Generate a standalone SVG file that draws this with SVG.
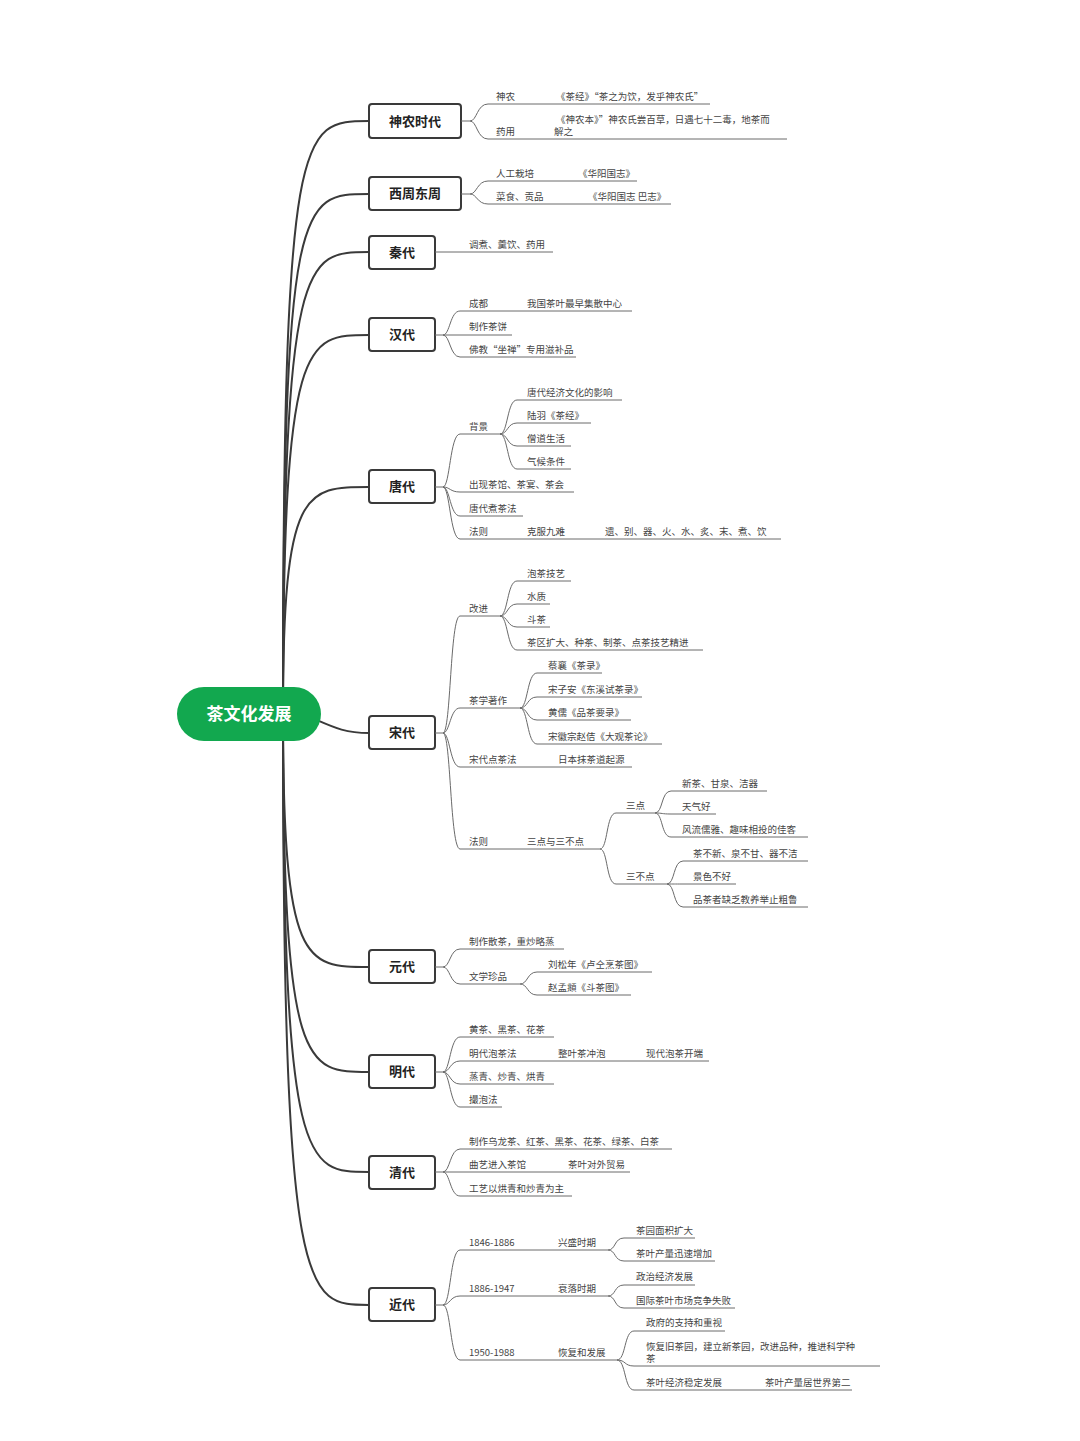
<svg xmlns="http://www.w3.org/2000/svg" width="1080" height="1441" viewBox="0 0 1080 1441">
<style>
.m{fill:none;stroke:#3a3a3a;stroke-width:2}
.l{fill:none;stroke:#6a6a6a;stroke-width:1}
.b{fill:#fff;stroke:#3a3a3a;stroke-width:2}
.n{font-family:"Noto Sans CJK SC","Noto Sans",sans-serif;font-size:13px;font-weight:bold;fill:#222;text-anchor:middle}
.t{font-family:"Noto Sans CJK SC","Noto Sans",sans-serif;font-size:9.5px;fill:#444}
</style>
<rect width="1080" height="1441" fill="#fff"/>
<g id="connectors">
<path class="m" d="M283 713 C283 121,300 121,369 121"/>
<path class="m" d="M283 713 C283 194,300 194,369 194"/>
<path class="m" d="M283 713 C283 252,305 252,369 252"/>
<path class="m" d="M283 713 C283 335,305 335,369 335"/>
<path class="m" d="M283 713 C283 487,305 487,369 487"/>
<path class="m" d="M300 713 C330 725,340 733,369 733"/>
<path class="m" d="M283 713 C283 967,305 967,369 967"/>
<path class="m" d="M283 713 C283 1072,305 1072,369 1072"/>
<path class="m" d="M283 713 C283 1172,305 1172,369 1172"/>
<path class="m" d="M283 713 C283 1305,305 1305,369 1305"/>
</g>
<g id="root">
<rect x="177" y="687" width="144" height="54" rx="27" fill="#12a84f"/>
<text x="249" y="720" font-family="Noto Sans CJK SC,sans-serif" font-size="17" font-weight="bold" fill="#fff" text-anchor="middle">茶文化发展</text>
</g>
<g id="shennong">
<rect class="b" x="369" y="104" width="92" height="34" rx="3"/><text class="n" x="415" y="126">神农时代</text>
<path class="l" d="M461 121 H470 C477 121,477 104,488 104 H710"/><text class="t" x="496" y="100">神农</text><text class="t" x="556" y="100">《茶经》“茶之为饮，发乎神农氏”</text>
<path class="l" d="M470 121 C477 121,477 139,488 139 H787"/><text class="t" x="496" y="135">药用</text><text class="t" x="556" y="123">《神农本》”神农氏尝百草，日遇七十二毒，地茶而</text><text class="t" x="554" y="135">解之</text>
</g>
<g id="xizhou">
<rect class="b" x="369" y="177" width="92" height="33" rx="3"/><text class="n" x="415" y="198">西周东周</text>
<path class="l" d="M461 194 H470 C477 194,477 181,488 181 H637"/><text class="t" x="496" y="177">人工栽培</text><text class="t" x="578" y="177">《华阳国志》</text>
<path class="l" d="M470 194 C477 194,477 204,488 204 H671"/><text class="t" x="496" y="200">菜食、贡品</text><text class="t" x="588" y="200">《华阳国志 巴志》</text>
</g>
<g id="qin">
<rect class="b" x="369" y="236" width="66" height="33" rx="3"/><text class="n" x="402" y="257">秦代</text>
<path class="l" d="M435 252 H553"/><text class="t" x="469" y="248">调煮、羹饮、药用</text>
</g>
<g id="han">
<rect class="b" x="369" y="318" width="66" height="33" rx="3"/><text class="n" x="402" y="339">汉代</text>
<path class="l" d="M435 335 H443 C450 335,450 311,460 311 H632"/><text class="t" x="469" y="307">成都</text><text class="t" x="527" y="307">我国茶叶最早集散中心</text>
<path class="l" d="M443 335 H512"/><text class="t" x="469" y="330">制作茶饼</text>
<path class="l" d="M443 335 C450 335,450 357,460 357 H576"/><text class="t" x="469" y="353">佛教“坐禅”专用滋补品</text>
</g>
<g id="tang">
<rect class="b" x="369" y="470" width="66" height="33" rx="3"/><text class="n" x="402" y="491">唐代</text>
<path class="l" d="M435 487 H443 C450 487,450 434,460 434 H500"/><text class="t" x="469" y="430">背景</text>
<path class="l" d="M500 434 C508 434,507 400,517 400 H622"/><text class="t" x="527" y="396">唐代经济文化的影响</text>
<path class="l" d="M500 434 C508 434,507 423,517 423 H591"/><text class="t" x="527" y="419">陆羽《茶经》</text>
<path class="l" d="M500 434 C508 434,507 446,517 446 H571"/><text class="t" x="527" y="442">僧道生活</text>
<path class="l" d="M500 434 C508 434,507 469,517 469 H571"/><text class="t" x="527" y="465">气候条件</text>
<path class="l" d="M443 487 C450 487,450 492,460 492 H574"/><text class="t" x="469" y="488">出现茶馆、茶宴、茶会</text>
<path class="l" d="M443 487 C450 487,450 516,460 516 H523"/><text class="t" x="469" y="512">唐代煮茶法</text>
<path class="l" d="M443 487 C450 487,450 539,460 539 H781"/><text class="t" x="469" y="535">法则</text><text class="t" x="527" y="535">克服九难</text><text class="t" x="605" y="535">遗、别、器、火、水、炙、末、煮、饮</text>
</g>
<g id="song">
<rect class="b" x="369" y="716" width="66" height="33" rx="3"/><text class="n" x="402" y="737">宋代</text>
<path class="l" d="M435 733 H443 C451 733,450 616,460 616 H500"/><text class="t" x="469" y="612">改进</text>
<path class="l" d="M500 616 C508 616,507 581,517 581 H571"/><text class="t" x="527" y="577">泡茶技艺</text>
<path class="l" d="M500 616 C508 616,507 604,517 604 H550"/><text class="t" x="527" y="600">水质</text>
<path class="l" d="M500 616 C508 616,507 627,517 627 H550"/><text class="t" x="527" y="623">斗茶</text>
<path class="l" d="M500 616 C508 616,507 650,517 650 H703"/><text class="t" x="527" y="646">茶区扩大、种茶、制茶、点茶技艺精进</text>
<path class="l" d="M443 733 C450 733,450 708,460 708 H520"/><text class="t" x="469" y="704">茶学著作</text>
<path class="l" d="M520 708 C528 708,527 673,537 673 H602"/><text class="t" x="548" y="669">蔡襄《茶录》</text>
<path class="l" d="M520 708 C528 708,527 697,537 697 H642"/><text class="t" x="548" y="693">宋子安《东溪试茶录》</text>
<path class="l" d="M520 708 C528 708,527 720,537 720 H631"/><text class="t" x="548" y="716">黄儒《品茶要录》</text>
<path class="l" d="M520 708 C528 708,527 744,537 744 H662"/><text class="t" x="548" y="740">宋徽宗赵佶《大观茶论》</text>
<path class="l" d="M443 733 C450 733,450 767,460 767 H632"/><text class="t" x="469" y="763">宋代点茶法</text><text class="t" x="558" y="763">日本抹茶道起源</text>
<path class="l" d="M443 733 C451 733,450 849,460 849 H600"/><text class="t" x="469" y="845">法则</text><text class="t" x="527" y="845">三点与三不点</text>
<path class="l" d="M600 849 C608 849,606 813,616 813 H655"/><text class="t" x="626" y="809">三点</text>
<path class="l" d="M600 849 C608 849,606 884,616 884 H667"/><text class="t" x="626" y="880">三不点</text>
<path class="l" d="M655 813 C663 813,661 791,671 791 H767"/><text class="t" x="682" y="787">新茶、甘泉、洁器</text>
<path class="l" d="M655 813 C663 813,661 814,671 814 H716"/><text class="t" x="682" y="810">天气好</text>
<path class="l" d="M655 813 C663 813,661 837,671 837 H808"/><text class="t" x="682" y="833">风流儒雅、趣味相投的佳客</text>
<path class="l" d="M667 884 C675 884,673 861,683 861 H808"/><text class="t" x="693" y="857">茶不新、泉不甘、器不洁</text>
<path class="l" d="M667 884 C675 884,673 884,683 884 H736"/><text class="t" x="693" y="880">景色不好</text>
<path class="l" d="M667 884 C675 884,673 907,683 907 H808"/><text class="t" x="693" y="903">品茶者缺乏教养举止粗鲁</text>
</g>
<g id="yuan">
<rect class="b" x="369" y="950" width="66" height="33" rx="3"/><text class="n" x="402" y="971">元代</text>
<path class="l" d="M435 967 H443 C450 967,450 949,460 949 H564"/><text class="t" x="469" y="945">制作散茶，重炒略蒸</text>
<path class="l" d="M443 967 C450 967,450 984,460 984 H520"/><text class="t" x="469" y="980">文学珍品</text>
<path class="l" d="M520 984 C528 984,527 972,537 972 H652"/><text class="t" x="548" y="968">刘松年《卢仝烹茶图》</text>
<path class="l" d="M520 984 C528 984,527 995,537 995 H631"/><text class="t" x="548" y="991">赵孟頫《斗茶图》</text>
</g>
<g id="ming">
<rect class="b" x="369" y="1055" width="66" height="33" rx="3"/><text class="n" x="402" y="1076">明代</text>
<path class="l" d="M435 1072 H443 C450 1072,450 1037,460 1037 H554"/><text class="t" x="469" y="1033">黄茶、黑茶、花茶</text>
<path class="l" d="M443 1072 C450 1072,450 1061,460 1061 H709"/><text class="t" x="469" y="1057">明代泡茶法</text><text class="t" x="558" y="1057">整叶茶冲泡</text><text class="t" x="646" y="1057">现代泡茶开端</text>
<path class="l" d="M443 1072 C450 1072,450 1084,460 1084 H554"/><text class="t" x="469" y="1080">蒸青、炒青、烘青</text>
<path class="l" d="M443 1072 C450 1072,450 1107,460 1107 H502"/><text class="t" x="469" y="1103">撮泡法</text>
</g>
<g id="qing">
<rect class="b" x="369" y="1156" width="66" height="33" rx="3"/><text class="n" x="402" y="1177">清代</text>
<path class="l" d="M435 1172 H443 C450 1172,450 1149,460 1149 H672"/><text class="t" x="469" y="1145">制作乌龙茶、红茶、黑茶、花茶、绿茶、白茶</text>
<path class="l" d="M443 1172 H630"/><text class="t" x="469" y="1168">曲艺进入茶馆</text><text class="t" x="568" y="1168">茶叶对外贸易</text>
<path class="l" d="M443 1172 C450 1172,450 1196,460 1196 H572"/><text class="t" x="469" y="1192">工艺以烘青和炒青为主</text>
</g>
<g id="jindai">
<rect class="b" x="369" y="1288" width="66" height="33" rx="3"/><text class="n" x="402" y="1309">近代</text>
<path class="l" d="M435 1305 H443 C451 1305,450 1250,460 1250 H608"/><text class="t" x="469" y="1246">1846-1886</text><text class="t" x="558" y="1246">兴盛时期</text>
<path class="l" d="M608 1250 C616 1250,614 1238,624 1238 H695"/><text class="t" x="636" y="1234">茶园面积扩大</text>
<path class="l" d="M608 1250 C616 1250,614 1261,624 1261 H715"/><text class="t" x="636" y="1257">茶叶产量迅速增加</text>
<path class="l" d="M443 1305 C450 1305,450 1296,460 1296 H608"/><text class="t" x="469" y="1292">1886-1947</text><text class="t" x="558" y="1292">衰落时期</text>
<path class="l" d="M608 1296 C616 1296,614 1285,624 1285 H695"/><text class="t" x="636" y="1280">政治经济发展</text>
<path class="l" d="M608 1296 C616 1296,614 1308,624 1308 H735"/><text class="t" x="636" y="1304">国际茶叶市场竞争失败</text>
<path class="l" d="M443 1305 C451 1305,450 1360,460 1360 H617"/><text class="t" x="469" y="1356">1950-1988</text><text class="t" x="558" y="1356">恢复和发展</text>
<path class="l" d="M617 1360 C626 1360,624 1331,634 1331 H725"/><text class="t" x="646" y="1326">政府的支持和重视</text>
<path class="l" d="M617 1360 C626 1360,624 1366,634 1366 H880"/><text class="t" x="646" y="1350">恢复旧茶园，建立新茶园，改进品种，推进科学种</text><text class="t" x="646" y="1362">茶</text>
<path class="l" d="M617 1360 C626 1360,624 1390,634 1390 H852"/><text class="t" x="646" y="1386">茶叶经济稳定发展</text><text class="t" x="765" y="1386">茶叶产量居世界第二</text>
</g>
</svg>
